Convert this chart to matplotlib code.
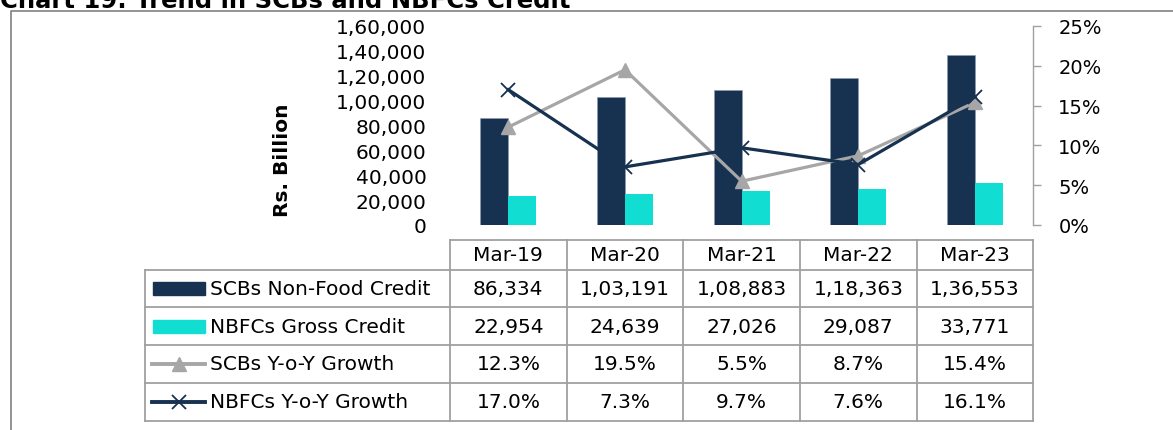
import matplotlib
matplotlib.use("Agg")
import matplotlib.pyplot as plt
from matplotlib.patches import Rectangle
from matplotlib.ticker import FuncFormatter, PercentFormatter

# data
years = ["Mar-19", "Mar-20", "Mar-21", "Mar-22", "Mar-23"]
scb_credit = [86334, 103191, 108883, 118363, 136553]
nbfc_credit = [22954, 24639, 27026, 29087, 33771]
scb_growth = [12.3, 19.5, 5.5, 8.7, 15.4]
nbfc_growth = [17.0, 7.3, 9.7, 7.6, 16.1]

NAVY = "#173150"
CYAN = "#11DDD3"
GREY = "#A6A6A6"
GRID = "#A0A0A0"
FS = 14.5

plt.rcParams["font.family"] = "DejaVu Sans"


def indian(v):
    v = int(round(v))
    s = str(v)
    if len(s) <= 3:
        return s
    head, tail = s[:-3], s[-3:]
    parts = []
    while len(head) > 2:
        parts.insert(0, head[-2:])
        head = head[:-2]
    if head:
        parts.insert(0, head)
    return ",".join(parts) + "," + tail


W, H = 1173, 431
fig = plt.figure(figsize=(W / 100, H / 100), dpi=100)

# main chart area aligned with the table columns
x0, x1 = 450, 1033.3
ytop, ybot = 27, 226
ax = fig.add_axes([x0 / W, 1 - ybot / H, (x1 - x0) / W, (ybot - ytop) / H])
x = list(range(len(years)))
bw = 0.24
ax.bar([i - bw / 2 for i in x], scb_credit, bw, color=NAVY, edgecolor="#8a9bb0", linewidth=0.4, zorder=2)
ax.bar([i + bw / 2 for i in x], nbfc_credit, bw, color=CYAN, zorder=2)
ax.set_xlim(-0.5, len(years) - 0.5)
ax.set_ylim(0, 160000)
ax.set_yticks(range(0, 160001, 20000))
ax.yaxis.set_major_formatter(FuncFormatter(lambda v, p: indian(v)))
ax.tick_params(axis="y", length=0, pad=17, labelsize=FS)
ax.set_xticks([])
for s in ax.spines.values():
    s.set_visible(False)
ax.patch.set_alpha(0)

ax2 = ax.twinx()
ax2.plot(x, [g / 100 for g in scb_growth], color=GREY, lw=2.3, marker="^", ms=10, zorder=3)
ax2.plot(x, [g / 100 for g in nbfc_growth], color=NAVY, lw=2.3, marker="x", ms=10, mew=1.3, zorder=3)
ax2.set_ylim(0, 0.25)
ax2.set_yticks([0, 0.05, 0.10, 0.15, 0.20, 0.25])
ax2.yaxis.set_major_formatter(PercentFormatter(1.0, decimals=0))
ax2.tick_params(axis="y", direction="out", length=6, width=1, color=GRID, pad=12, labelsize=14)
for k, s in ax2.spines.items():
    s.set_visible(k == "right")
ax2.spines["right"].set_color(GRID)
ax2.spines["right"].set_linewidth(1)

# overlay in pixel coordinates for frame, title, table
ov = fig.add_axes([0, 0, 1, 1], zorder=-1)
ov.set_xlim(0, W)
ov.set_ylim(H, 0)
ov.axis("off")

ov.plot([11, 11, W], [H, 12, 12], color="#808080", lw=1.2)
ov.text(0, 8, "Chart 19: Trend in SCBs and NBFCs Credit", fontsize=17.5, fontweight="bold",
        va="baseline", ha="left")
fig.text(283 / W, 1 - 160 / H, "Rs. Billion", rotation=90, fontsize=FS, fontweight="bold",
         ha="center", va="center")

cols = [x0 + i * (x1 - x0) / len(years) for i in range(len(years) + 1)]
rows = [241, 270.7, 308.4, 346.1, 383.9, 421.7]
lx = 145
lw = 1.3
# header row
ov.plot([x0, x1], [rows[0], rows[0]], color=GRID, lw=lw)
for r in rows[1:]:
    ov.plot([lx, x1], [r, r], color=GRID, lw=lw)
for c in cols:
    ov.plot([c, c], [rows[0], rows[-1]], color=GRID, lw=lw)
ov.plot([lx, lx], [rows[1], rows[-1]], color=GRID, lw=lw)

for i, yr in enumerate(years):
    cx = (cols[i] + cols[i + 1]) / 2
    ov.text(cx, (rows[0] + rows[1]) / 2, yr, fontsize=FS, ha="center", va="center")

labels = ["SCBs Non-Food Credit", "NBFCs Gross Credit", "SCBs Y-o-Y Growth", "NBFCs Y-o-Y Growth"]
values = [[indian(v) for v in scb_credit], [indian(v) for v in nbfc_credit],
          [f"{v:.1f}%" for v in scb_growth], [f"{v:.1f}%" for v in nbfc_growth]]
for j, lab in enumerate(labels):
    cy = (rows[j + 1] + rows[j + 2]) / 2
    ov.text(210, cy, lab, fontsize=FS, ha="left", va="center")
    for i, v in enumerate(values[j]):
        cx = (cols[i] + cols[i + 1]) / 2
        ov.text(cx, cy, v, fontsize=FS, ha="center", va="center")

# legend keys
cy = [(rows[j + 1] + rows[j + 2]) / 2 for j in range(4)]
ov.add_patch(Rectangle((153, cy[0] - 6.5), 52, 13, color=NAVY))
ov.add_patch(Rectangle((153, cy[1] - 6.5), 52, 13, color=CYAN))
ov.plot([152, 205], [cy[2], cy[2]], color=GREY, lw=2.8)
ov.plot([178.5], [cy[2]], color=GREY, marker="^", ms=10, ls="none")
ov.plot([152, 205], [cy[3], cy[3]], color=NAVY, lw=2.8)
ov.plot([178.5], [cy[3]], color=NAVY, marker="x", ms=10, mew=1.3, ls="none")

fig.savefig("out.png", dpi=100)
